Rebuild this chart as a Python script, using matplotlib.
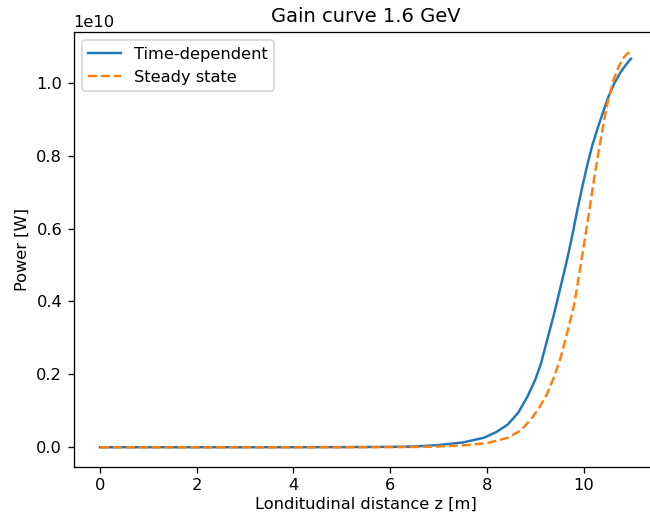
"Gain curve plot: time-dependent vs steady state FEL power."

from matplotlib import pyplot as plt
import numpy as np


# ---------------------------------------------------------------------------
# Data (power in units of 1e10 W)
# ---------------------------------------------------------------------------
z_td = [0, 1, 2, 3, 4, 5, 6, 6.5, 7.0, 7.5, 7.94, 8.2, 8.43, 8.65, 8.84, 9.0,
        9.12, 9.25, 9.39, 9.53, 9.67, 9.78, 9.88, 9.98, 10.08, 10.18, 10.29,
        10.4, 10.5, 10.63, 10.77, 10.88, 10.98]
p_td = [0.0, 0.0, 0.0, 0.0, 0.0001, 0.0003, 0.001, 0.002, 0.006, 0.013, 0.026,
        0.042, 0.062, 0.095, 0.139, 0.185, 0.230, 0.296, 0.366, 0.443, 0.521,
        0.590, 0.657, 0.718, 0.776, 0.828, 0.875, 0.918, 0.957, 0.997, 1.030,
        1.050, 1.066]

z_ss = [0, 1, 2, 3, 4, 5, 6, 6.5, 7.0, 7.5, 8.0, 8.43, 8.7, 8.91, 9.1, 9.25,
        9.4, 9.53, 9.67, 9.81, 9.91, 10.01, 10.12, 10.22, 10.29, 10.36,
        10.43, 10.5, 10.57, 10.63, 10.72, 10.81, 10.9, 10.98]
p_ss = [0.0, 0.0, 0.0, 0.0, 0.0, 0.0001, 0.0003, 0.0007, 0.002, 0.005, 0.011,
        0.026, 0.046, 0.076, 0.112, 0.148, 0.196, 0.248, 0.318, 0.394, 0.475,
        0.557, 0.650, 0.739, 0.795, 0.848, 0.900, 0.948, 0.983, 1.012,
        1.042, 1.066, 1.080, 1.085]


def main():
    dpi = 117
    fig = plt.figure(figsize=(650 / dpi, 518 / dpi), dpi=dpi)
    # axes runs slightly past the right edge, as in the cropped reference
    ax = fig.add_axes([73.5 / 650, 51 / 518, 584 / 650, 435 / 518])

    ax.plot(z_td, np.array(p_td) * 1e10, label="Time-dependent")
    ax.plot(z_ss, np.array(p_ss) * 1e10, "--", label="Steady state")

    ax.set_title("Gain curve 1.6 GeV")
    ax.set_xlabel("Londitudinal distance z [m]", labelpad=2)
    ax.set_ylabel("Power [W]")
    ax.legend(loc="upper left")
    ax.spines["right"].set_visible(False)  # cropped off in the reference

    fig.savefig("out.png", dpi=dpi)


main()
